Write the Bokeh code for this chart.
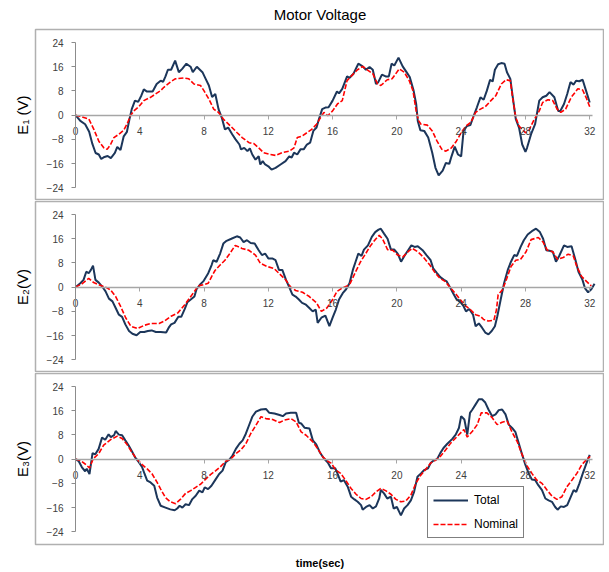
from bokeh.plotting import figure
from bokeh.models import LinearAxis, FixedTicker, Legend, LegendItem
from bokeh.layouts import column
from bokeh.embed import file_html
from bokeh.resources import INLINE

TITLE = "Motor Voltage"
X_LABEL = "time(sec)"
Y_LABELS = ["E₁ (V)", "E₂(V)", "E₃(V)"]
SERIES_NAMES = ["Total", "Nominal"]
X_TICKS = [0, 4, 8, 12, 16, 20, 24, 28, 32]
Y_TICKS = [-24, -16, -8, 0, 8, 16, 24]

# ---- E1 ----
e1_total_t = [0, 0.3, 0.6, 0.85, 1.05, 1.25, 1.45, 1.6, 1.8, 2.0, 2.2, 2.45, 2.6, 2.8, 3.0, 3.2, 3.35, 3.5,
              3.7, 3.9, 4.1, 4.25, 4.45, 4.8, 5.05, 5.3, 5.45, 5.6, 5.75, 5.95, 6.2, 6.43, 6.64, 6.9, 7.16,
              7.3, 7.55, 7.9, 8.1, 8.3, 8.5, 8.7, 8.9, 9.1, 9.3, 9.5, 9.75, 9.96, 10.2, 10.3, 10.5, 10.7,
              10.85, 11.0, 11.2, 11.4, 11.5, 11.65, 11.8, 12.0, 12.2, 12.45, 12.76, 13.07, 13.3, 13.45,
              13.6, 13.8, 14.0, 14.2, 14.4, 14.6, 14.8, 15.0, 15.15, 15.35, 15.55, 15.75, 16.0, 16.27,
              16.4, 16.6, 16.9, 17.04, 17.3, 17.6, 17.87, 18.07, 18.3, 18.5, 18.7, 18.84, 19.07, 19.3,
              19.5, 19.67, 19.84, 20.1, 20.36, 20.6, 20.8, 21.04, 21.2, 21.3, 21.46, 21.7, 21.95, 22.2,
              22.4, 22.6, 22.85, 23.05, 23.26, 23.4, 23.6, 23.8, 24.0, 24.15, 24.36, 24.57, 24.78, 24.98,
              25.2, 25.4, 25.6, 25.8, 25.96, 26.1, 26.3, 26.5, 26.7, 26.85, 27.06, 27.2, 27.4, 27.6,
              27.8, 28.0, 28.1, 28.35, 28.6, 28.86, 29.07, 29.3, 29.5, 29.8, 30.04, 30.17, 30.4, 30.6,
              30.8, 31.0, 31.15, 31.35, 31.56, 31.77, 32.0]
e1_total_v = [0, -1.9, -3.0, -5.5, -9.5, -12.5, -13.0, -14.5, -13.8, -13.5, -14.2, -12.5, -10.5, -11.5, -7,
              -5.5, -1.5, 2, 4.8, 4.4, 6.5, 8.5, 7.8, 7.8, 10.3, 11.4, 11.0, 12.8, 15, 15, 18, 14.2, 15.3,
              17, 16, 14.2, 16, 14.2, 12, 9.8, 6, 7, 2, -0.8, -4.7, -4.1, -6.3, -8, -9.7, -11.3, -10.8,
              -11.9, -11, -13, -14.7, -13.6, -16.3, -15.2, -16.3, -16.9, -18, -17.4, -16.3, -15.2, -13.6,
              -14, -12.4, -13, -11.3, -11.3, -9.7, -9.1, -5.2, -4.1, -1.3, 2, 2.5, 2.6, 4.8, 7.8, 7.2,
              8.7, 12.8, 12.3, 13.7, 17, 16.1, 15, 15.9, 15, 10.3, 10.9, 13.4, 12.8, 12.8, 17, 16.4, 19,
              16.1, 14.2, 12.6, 8.1, 3.7, -1.9, -5, -5.2, -7.4, -12.4, -17.4, -19.9, -18.3, -15.8, -16.1,
              -13.6, -10.4, -13, -13.6, -5.2, -3.6, -3.3, -0.2, 2.6, 5.9, 5.1, 8.1, 11.7, 11.1, 15, 16.8,
              17.2, 17, 14.2, 12, 6.4, -1.3, -4.1, -9.7, -12.1, -10.8, -6.3, -3, 4.8, 5.9, 6.4, 7.6, 5.9,
              1.4, 1.4, 3.7, 7, 10.9, 10.1, 11.4, 11.2, 11.7, 8.1, 4.2]
e1_nominal_t = [0, 0.4, 0.83, 1.14, 1.45, 1.76, 1.97, 2.18, 2.39, 2.7, 3.0, 3.2, 3.42, 3.63, 3.94, 4.25,
                4.67, 4.98, 5.3, 5.5, 5.9, 6.2, 6.74, 7.05, 7.37, 7.78, 7.99, 8.3, 8.6, 8.9, 9.2, 9.65,
                10.06, 10.37, 10.8, 11.1, 11.4, 11.7, 12.1, 12.45, 12.86, 13.3, 13.6, 13.8, 14.1, 14.4,
                14.7, 15.0, 15.25, 15.46, 15.7, 16.0, 16.3, 16.6, 16.9, 17.1, 17.55, 17.87, 18.2, 18.5,
                18.8, 19.0, 19.4, 19.7, 20.15, 20.46, 20.77, 21.0, 21.2, 21.36, 21.5, 21.9, 22.2, 22.5,
                22.8, 23.05, 23.4, 23.7, 24.0, 24.3, 24.6, 24.9, 25.2, 25.5, 25.85, 26.15, 26.5, 26.8,
                27.06, 27.2, 27.4, 27.6, 27.8, 28.0, 28.2, 28.5, 28.86, 29.07, 29.4, 29.7, 29.97, 30.2,
                30.5, 30.85, 31.26, 31.56, 31.77, 32.0]
e1_nominal_v = [0, -0.6, -1.3, -4.7, -8.6, -10.8, -11.3, -9.7, -7.4, -6.3, -5, -3, -0.2, 1.4, 2.8, 4.8,
                5.9, 7, 8.1, 9.2, 10.9, 12, 12.3, 12, 10.3, 9.8, 8.1, 5.3, 2, 0.9, -1.3, -3.6, -5.8, -7.4,
                -9.1, -9.4, -10.8, -12.4, -13, -13.3, -12.4, -11.9, -10.8, -7.4, -6.9, -5.8, -4.7, -3,
                -0.8, 0.9, -0.2, 1.4, 3.7, 4.8, 11.4, 12.6, 15, 16.1, 14.8, 13.7, 10.3, 9.8, 11.7, 12,
                15.3, 14.2, 11.4, 8.1, 1.4, -1.9, -3, -3.3, -5.2, -8.6, -11.3, -11.9, -10.8, -8.6, -5.8,
                -3.6, -2.4, 0.9, 2, 2.8, 4.8, 6.4, 10.3, 11.7, 11.4, 5.9, -0.8, -3.6, -4.7, -5.8, -5.2,
                -1.9, 1.4, 4.2, 5.1, 4.8, 2, 0.9, 2, 5.9, 8.7, 8.3, 5.9, 2.8]

# ---- E2 ----
e2_total_t = [0, 0.3, 0.5, 0.67, 0.82, 0.96, 1.09, 1.24, 1.45, 1.66, 1.87, 2.08, 2.3, 2.5, 2.7, 2.9, 3.1,
              3.33, 3.54, 3.8, 4.03, 4.28, 4.5, 4.74, 5.0, 5.3, 5.64, 5.8, 5.95, 6.16, 6.4, 6.58, 6.8,
              6.96, 7.17, 7.4, 7.53, 7.74, 7.95, 8.26, 8.47, 8.57, 8.78, 9.0, 9.2, 9.4, 9.7, 10.04,
              10.25, 10.46, 10.67, 10.9, 11.15, 11.4, 11.6, 11.8, 12.0, 12.24, 12.45, 12.66, 12.87,
              13.1, 13.3, 13.5, 13.7, 13.9, 14.1, 14.34, 14.55, 14.76, 14.95, 15.07, 15.3, 15.55, 15.8,
              16.0, 16.2, 16.4, 16.63, 16.84, 17.05, 17.26, 17.43, 17.6, 17.8, 17.95, 18.2, 18.44,
              18.65, 18.86, 19.0, 19.2, 19.42, 19.63, 19.84, 20.05, 20.26, 20.5, 20.7, 20.9, 21.1,
              21.3, 21.6, 21.84, 22.1, 22.26, 22.47, 22.7, 22.93, 23.1, 23.3, 23.5, 23.7, 24.0, 24.15,
              24.3, 24.5, 24.74, 24.9, 25.1, 25.3, 25.5, 25.7, 25.9, 26.1, 26.25, 26.46, 26.67, 26.9,
              27.1, 27.3, 27.47, 27.7, 27.9, 28.14, 28.4, 28.66, 28.9, 29.1, 29.3, 29.5, 29.7, 29.9,
              30.1, 30.4, 30.6, 30.87, 31.1, 31.3, 31.55, 31.7, 31.9, 32.1, 32.3]
e2_total_v = [0, 1.3, 2.4, 5.1, 4.6, 5.7, 7.1, 2.4, 1.5, 0.2, -1.4, -3.8, -4.7, -6.9, -9.1, -9.8, -12.3,
              -14.5, -15.4, -15.9, -14.8, -14.8, -14.5, -14.3, -14.8, -14.8, -15, -13.4, -12.3, -11.8,
              -9.8, -9.8, -7.2, -5, -4.1, -3.1, -0.7, 0.8, 1.9, 4.6, 7.3, 8.9, 8.4, 11.1, 14.4, 15.3, 16,
              16.8, 16.4, 14.9, 15.5, 14.6, 14.4, 12.2, 10.6, 11.1, 9.5, 9.5, 8.9, 5.7, 5.7, 2.4, 0,
              -2.5, -3.1, -4.1, -5.2, -5.8, -6.9, -8, -7.4, -11.8, -10.1, -9.4, -12.9, -10.1, -7.4, -4.1,
              -2, -0.7, 1.3, 5.7, 8.4, 11.1, 10.3, 12.4, 13.8, 16.6, 18.2, 19, 19.3, 17.7, 16, 12.4,
              12.4, 11.1, 8.4, 10.6, 12.2, 13.8, 13.3, 13.5, 12.2, 10.6, 8.9, 6.2, 4.8, 3.3, 2.4, 1.9,
              0, -2, -3.9, -5.2, -6.3, -8, -7.2, -9.1, -12.9, -12, -13.4, -15, -15.6, -14.5, -12.9, -9.6,
              -4.1, 1.3, 5.7, 8.4, 10.6, 10.3, 13.3, 15.5, 17.4, 18.5, 19.3, 18.2, 16, 12.2, 12, 11.7,
              8.4, 10.3, 13.8, 13.3, 13.5, 9.2, 5.1, 2.4, -0.3, -1.7, -0.7, 1.1]
e2_nominal_t = [0, 0.4, 0.82, 1.13, 1.45, 1.87, 2.18, 2.5, 2.8, 3.12, 3.44, 3.86, 4.28, 4.7, 5.2, 5.53,
                5.95, 6.37, 6.8, 7.1, 7.4, 7.63, 7.95, 8.26, 8.47, 8.68, 9.0, 9.3, 9.6, 9.94, 10.36,
                10.78, 11.2, 11.5, 11.93, 12.35, 12.66, 13.08, 13.4, 13.7, 14.13, 14.55, 15.0, 15.3,
                15.64, 16.0, 16.27, 16.6, 16.9, 17.1, 17.43, 17.74, 18.06, 18.37, 18.7, 18.9, 19.1,
                19.42, 19.74, 20.05, 20.37, 20.7, 20.96, 21.3, 21.63, 22.05, 22.37, 22.68, 23.0, 23.3,
                23.63, 23.94, 24.26, 24.57, 24.9, 25.2, 25.4, 25.7, 26.04, 26.2, 26.3, 26.57, 26.84,
                27.1, 27.4, 27.7, 28.04, 28.35, 28.8, 29.1, 29.36, 29.7, 30.0, 30.35, 30.66, 30.98,
                31.2, 31.5, 31.8, 32.1]
e2_nominal_v = [0, 1.1, 2.9, 1.5, 0.8, 0, -0.9, -3.1, -6.3, -10.1, -12.9, -13.7, -12.6, -12, -12, -11.2,
                -9.6, -8.5, -5.8, -3.6, -1.4, 0.4, 0.8, 1.3, 3.5, 5.5, 7.3, 8.9, 11.1, 13.8, 12.8, 12.2,
                10.6, 7.9, 6.8, 6.2, 4.6, 2.4, 0, -1.1, -1.7, -3.1, -5.2, -8, -6.9, -4.1, -1.4, -0.3, 0.4,
                1.3, 5.1, 8.4, 11.1, 13.8, 16, 17.1, 16, 12.4, 12.2, 10.6, 10, 11.7, 12.8, 11.7, 10, 7.3,
                4.8, 2.9, 1.9, 0, -2, -4.1, -6.1, -7.4, -9.1, -9.6, -10.7, -11.2, -10.9, -7.4, -2.5, -0.9,
                2.9, 6.8, 8.9, 9.2, 11.7, 15.7, 16.4, 14.9, 12.2, 11.7, 9.2, 9.8, 10.9, 10.3, 6.8, 3.5,
                1.9, 0.4]

# ---- E3 ----
e3_total_t = [0, 0.2, 0.4, 0.6, 0.7, 0.87, 1.06, 1.23, 1.44, 1.65, 1.85, 2.06, 2.2, 2.4, 2.5, 2.7, 2.9,
              3.1, 3.3, 3.5, 3.73, 3.94, 4.15, 4.3, 4.46, 4.67, 4.9, 5.08, 5.3, 5.6, 5.9, 6.17, 6.33,
              6.48, 6.65, 6.85, 7.06, 7.27, 7.48, 7.7, 7.9, 8.04, 8.25, 8.46, 8.73, 8.94, 9.15, 9.35,
              9.56, 9.77, 9.98, 10.2, 10.4, 10.6, 10.8, 11.0, 11.23, 11.54, 11.85, 12.06, 12.38, 12.7,
              12.9, 13.1, 13.4, 13.73, 13.9, 14.04, 14.25, 14.56, 14.77, 14.98, 15.2, 15.45, 15.7, 15.9,
              16.16, 16.3, 16.5, 16.7, 16.94, 17.15, 17.36, 17.56, 17.77, 17.87, 18.08, 18.3, 18.5,
              18.7, 18.9, 19.0, 19.2, 19.4, 19.63, 19.8, 20.0, 20.25, 20.45, 20.66, 20.87, 21.07,
              21.28, 21.5, 21.7, 21.94, 22.1, 22.3, 22.5, 22.7, 22.9, 23.14, 23.45, 23.66, 23.86, 24.0,
              24.2, 24.38, 24.55, 24.7, 24.9, 25.1, 25.3, 25.5, 25.7, 25.93, 26.14, 26.34, 26.55,
              26.76, 26.96, 27.17, 27.38, 27.58, 27.8, 28.0, 28.2, 28.4, 28.6, 28.8, 29.03, 29.24,
              29.44, 29.65, 29.85, 30.0, 30.2, 30.4, 30.6, 30.8, 31.0, 31.16, 31.36, 31.57, 31.8, 32.0]
e3_total_v = [0, -0.7, -2.7, -4, -3.2, -4.9, 2, 1.6, 3.4, 7.1, 6.4, 8.2, 7.3, 7.9, 9.3, 8.1, 7.9, 6.2, 4.6,
              2.7, 0.4, -1, -2.7, -4.9, -7.1, -7.7, -8.8, -12.7, -15.4, -16, -16.6, -16.9, -16.3, -15.4,
              -16, -14.9, -15.2, -13.2, -12.1, -10.4, -11, -9.3, -9.9, -8.8, -6.6, -4.9, -3.8, -1, -0.2,
              1.2, 3.4, 5.1, 6.2, 8.4, 11.2, 14, 15.7, 16.4, 16.6, 15.3, 15.1, 14.6, 14.2, 15.1, 15.3,
              15.3, 12, 11.8, 10.4, 10.1, 6.2, 4.9, 2.3, 0.3, -1.1, -3, -3, -4.7, -7.4, -6.9, -9.1,
              -12.4, -13.3, -14.1, -15.2, -16.7, -15.8, -15.2, -16.3, -15.6, -13, -10.2, -11.3, -13,
              -12.4, -16.3, -15.8, -18.6, -16.3, -15.2, -13.6, -10.8, -5.8, -4.7, -3.6, -3, -1.3, -0.4,
              0, 2, 3.7, 5.1, 6.7, 8.1, 10.3, 14.2, 13.1, 8.1, 15.3, 16.4, 18.1, 19.8, 19.8, 18.7, 16.4,
              14.2, 14.8, 16.2, 16.4, 14.8, 11.4, 10.3, 8.9, 5.3, 1.4, -1.9, -4.7, -6.7, -6.9, -8.6,
              -10.2, -13, -13.6, -14.1, -15.8, -16.7, -15.6, -15.8, -15.2, -12.7, -10.2, -10.8, -8,
              -4.7, -1.3, 1.4]
e3_nominal_t = [0, 0.3, 0.6, 0.87, 1.1, 1.44, 1.75, 2.17, 2.6, 2.9, 3.2, 3.5, 3.8, 4.15, 4.46, 4.77, 5.08,
                5.3, 5.6, 5.9, 6.23, 6.54, 6.85, 7.17, 7.48, 7.8, 8.1, 8.4, 8.73, 9.04, 9.35, 9.67, 9.98,
                10.3, 10.6, 10.9, 11.23, 11.54, 11.85, 12.27, 12.7, 13.0, 13.4, 13.73, 14.04, 14.35,
                14.77, 15.08, 15.4, 15.65, 15.9, 16.2, 16.5, 16.8, 17.15, 17.46, 17.77, 18.08, 18.4,
                18.7, 19.0, 19.3, 19.63, 19.94, 20.25, 20.56, 20.87, 21.18, 21.5, 21.8, 22.1, 22.4,
                22.7, 23.04, 23.35, 23.66, 23.97, 24.17, 24.38, 24.7, 25.0, 25.25, 25.6, 25.93, 26.24,
                26.55, 26.86, 27.17, 27.48, 27.8, 28.1, 28.4, 28.7, 29.03, 29.34, 29.65, 29.96, 30.27,
                30.58, 30.9, 31.2, 31.5, 31.82, 32.03]
e3_nominal_v = [0, -0.4, -1.6, -2.9, 0.1, 1.8, 4.6, 6.4, 7.6, 6.8, 4.9, 2.3, 0.1, -1.8, -3.2, -4.9, -7.7,
                -9.9, -12.7, -14.1, -14.7, -13.2, -11.3, -10.4, -9.3, -8.2, -6.6, -5.1, -3.8, -2.4, -0.7,
                0.1, 1.8, 3.1, 5.1, 8.4, 11.2, 14, 13.4, 13.1, 12.1, 12.9, 13.4, 12.3, 9, 7.9, 5.7, 3.4,
                0.7, -0.5, -1.3, -3.6, -4.7, -6.9, -9.7, -11.6, -13, -13.3, -12.4, -10.8, -9.7, -10.4,
                -11.6, -13.3, -14.1, -13.8, -11.9, -8, -5.2, -3.3, -1.3, -0.4, 0.9, 3.1, 5.3, 7, 8.7, 9.8,
                7.3, 9.2, 11.4, 15.3, 15.3, 13.7, 11.4, 12.2, 12.6, 8.9, 5.9, 1.4, -2.2, -4.7, -6.9, -8,
                -10.2, -12.2, -13.3, -12.4, -9.1, -6.9, -4.7, -1.9, 0, 0.9]

PANELS = [
    (e1_total_t, e1_total_v, e1_nominal_t, e1_nominal_v),
    (e2_total_t, e2_total_v, e2_nominal_t, e2_nominal_v),
    (e3_total_t, e3_total_v, e3_nominal_t, e3_nominal_v),
]

NAVY = "#1c365a"
RED = "#ff0000"
FONT = "Liberation Sans"
W = 604


def make_panel(i, tt, tv, nt, nv):
    top = 29 if i == 0 else 1
    bottom = 28 if i == 2 else 0
    h = top + 171 + bottom
    p = figure(width=W, height=h, x_range=(-2.49, 32.92), y_range=(-28.2, 28.3),
               output_backend="svg", toolbar_location=None,
               min_border_left=35, min_border_right=0, min_border_top=top, min_border_bottom=bottom)
    p.background_fill_color = "white"
    p.border_fill_color = "white"
    p.outline_line_color = "#b0b0b0"
    p.outline_line_width = 1.5
    p.xgrid.visible = False
    p.ygrid.visible = False

    xa = p.xaxis[0]
    xa.fixed_location = 0
    xa.bounds = (0, 32.2)
    xa.ticker = FixedTicker(ticks=X_TICKS)
    xa.axis_line_color = "#a6a6a6"
    xa.axis_line_width = 1.5
    xa.major_tick_line_color = "#a6a6a6"
    xa.major_tick_out = 4
    xa.major_tick_in = 0
    xa.minor_tick_line_color = None
    xa.major_label_standoff = 8
    xa.major_label_text_font = FONT
    xa.major_label_text_font_size = "10px"
    xa.major_label_text_color = "#404040"

    ya = p.yaxis[0]
    ya.fixed_location = 0
    ya.bounds = (-24, 24)
    ya.ticker = FixedTicker(ticks=Y_TICKS)
    ya.axis_line_color = "#8c8c8c"
    ya.axis_line_width = 1
    ya.major_tick_line_color = "#8c8c8c"
    ya.major_tick_out = 4
    ya.major_tick_in = 0
    ya.minor_tick_line_color = None
    ya.major_label_standoff = 8
    ya.major_label_text_font = FONT
    ya.major_label_text_font_size = "10px"
    ya.major_label_text_color = "#404040"

    lab = LinearAxis(axis_label=Y_LABELS[i], ticker=FixedTicker(ticks=[]),
                     axis_line_color=None, major_tick_line_color=None, minor_tick_line_color=None,
                     major_tick_out=0, major_tick_in=0, minor_tick_out=0, minor_tick_in=0,
                     major_label_text_font_size="0px", axis_label_standoff=5,
                     axis_label_text_font=FONT, axis_label_text_font_size="15px",
                     axis_label_text_font_style="normal", axis_label_text_color="black")
    p.add_layout(lab, "left")

    r1 = p.line(tt, tv, line_color=NAVY, line_width=2)
    r2 = p.line(nt, nv, line_color=RED, line_width=1.6, line_dash="5 2")

    if i == 0:
        p.title.text = TITLE
        p.title.align = "center"
        p.title.vertical_align = "top"
        p.title.text_font = FONT
        p.title.text_font_size = "15px"
        p.title.text_font_style = "normal"
        p.title.text_color = "black"
        p.title.standoff = 10

    if i == 2:
        xl = LinearAxis(axis_label=X_LABEL, ticker=FixedTicker(ticks=[]),
                        axis_line_color=None, major_tick_line_color=None, minor_tick_line_color=None,
                        major_tick_out=0, major_tick_in=0, minor_tick_out=0, minor_tick_in=0,
                        major_label_text_font_size="0px", axis_label_standoff=12,
                        axis_label_text_font=FONT, axis_label_text_font_size="11px",
                        axis_label_text_font_style="bold", axis_label_text_color="black")
        p.add_layout(xl, "below")
        legend = Legend(items=[LegendItem(label=SERIES_NAMES[0], renderers=[r1]),
                               LegendItem(label=SERIES_NAMES[1], renderers=[r2])],
                        location=(392, 6), margin=0, padding=5, spacing=8,
                        glyph_width=35, glyph_height=16, label_height=16, label_standoff=6,
                        label_text_font=FONT, label_text_font_size="12px", label_text_color="black",
                        border_line_color="black", border_line_width=1,
                        background_fill_color="white", background_fill_alpha=1)
        p.add_layout(legend)
    return p


figs = [make_panel(i, *PANELS[i]) for i in range(3)]
layout = column(*figs, spacing=0)

with open("out.html", "w") as f:
    f.write(file_html(layout, INLINE))
